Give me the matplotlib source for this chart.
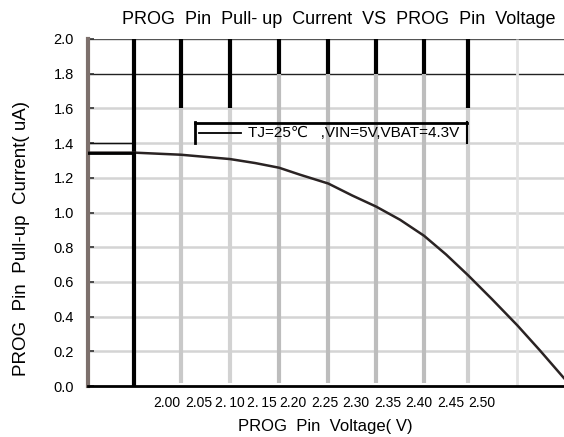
import matplotlib
matplotlib.use("Agg")
import matplotlib.pyplot as plt
from matplotlib.lines import Line2D

plt.rcParams['font.family'] = ['Liberation Sans', 'DejaVu Sans']

# ---- data ----
voltage = [1.875, 1.948, 2.022, 2.100, 2.140, 2.178, 2.211, 2.256, 2.294, 2.332,
           2.370, 2.408, 2.443, 2.478, 2.516, 2.556, 2.592, 2.630]
current = [1.345, 1.345, 1.333, 1.308, 1.285, 1.258, 1.218, 1.167, 1.098, 1.034,
           0.958, 0.866, 0.758, 0.638, 0.500, 0.350, 0.205, 0.046]

xtick_vals = [2.00, 2.05, 2.10, 2.15, 2.20, 2.25, 2.30, 2.35, 2.40, 2.45, 2.50]
xtick_labels = ["2.00", "2.05", "2.\u200910", "2.\u200915", "2.20", "2.25", "2.30",
                "2.35", "2.40", "2.45", "2.50"]
ytick_vals = [0.0, 0.2, 0.4, 0.6, 0.8, 1.0, 1.2, 1.4, 1.6, 1.8, 2.0]

# vertical grid positions (as drawn in the original, odd spacing)
vgrid = [1.948, 2.022, 2.100, 2.178, 2.256, 2.332, 2.408, 2.478, 2.556]
# black top part ends at this current level, then grey below
vgrid_black_to = ["full", 1.6, 1.6, 1.8, 1.8, 1.8, 1.8, 1.6, None]
vgrid_grey = ["#000000", "#c9c9c9", "#d2d2d2", "#bdbdbd", "#bdbdbd", "#bdbdbd",
              "#bdbdbd", "#cfcfcf", "#e2e2e2"]

title = "PROG  Pin  Pull- up  Current  VS  PROG  Pin  Voltage"
xlabel = "PROG  Pin  Voltage( V)"
ylabel = "PROG  Pin  Pull-up  Current( uA)"
legend_text = "TJ=25\u2103   ,VIN=5V,VBAT=4.3V"

W, H = 564, 437
fig = plt.figure(figsize=(W / 100, H / 100), dpi=100)
ax = fig.add_axes([88 / W, (H - 386) / H, (564 - 88) / W, (386 - 39) / H])
ax.set_xlim(1.8746, 2.6302)
ax.set_ylim(0, 2.0)

# horizontal grid
for y in ytick_vals:
    if y == 0.0:
        continue
    if y == 2.0:
        ax.axhline(y, color="#555555", lw=1.0, zorder=1)
    elif y == 1.8:
        ax.axhline(y, color="#222222", lw=1.0, zorder=1)
    else:
        ax.axhline(y, color="#d4d4d4", lw=1.8, zorder=1)
# short black segment at 1.4
ax.plot([1.8746, vgrid[0]], [1.4, 1.4], color="#111111", lw=1.0, zorder=2)

# vertical grid
for xv, bt, gc in zip(vgrid, vgrid_black_to, vgrid_grey):
    if bt == "full":
        ax.plot([xv, xv], [0, 2.0], color="#000000", lw=3.0, zorder=3,
                solid_capstyle="butt")
    elif bt is None:
        ax.plot([xv, xv], [0, 2.0], color=gc, lw=2.0, zorder=1,
                solid_capstyle="butt")
    else:
        ax.plot([xv, xv], [0.02, bt], color=gc, lw=3.0, zorder=1,
                solid_capstyle="butt")
        ax.plot([xv, xv], [bt, 2.0], color="#000000", lw=3.0, zorder=3,
                solid_capstyle="butt")

# curve
ax.plot(voltage, current, color="#2a2323", lw=1.8, zorder=4)
ax.plot(voltage[:2], current[:2], color="#000000", lw=2.0, zorder=4)

# spines
for s in ("top", "right"):
    ax.spines[s].set_visible(False)
ax.spines["left"].set_color("#7d706c")
ax.spines["left"].set_linewidth(3.0)
ax.spines["bottom"].set_color("#000000")
ax.spines["bottom"].set_linewidth(2.0)

ax.set_yticks(ytick_vals)
ax.set_yticklabels([f"{v:.1f}" for v in ytick_vals], fontsize=10.5)
ax.tick_params(axis="y", direction="in", length=4, width=1.2, color="#333333", pad=10)
ax.set_xticks(xtick_vals)
ax.set_xticklabels(xtick_labels, fontsize=10)
ax.tick_params(axis="x", length=0, pad=7)

fig.text(339 / W, 1 - 19 / H, title, ha="center", va="center", fontsize=13)
fig.text(325 / W, 1 - 426 / H, xlabel, ha="center", va="center", fontsize=12)
fig.text(22 / W, 1 - 238 / H, ylabel, ha="center", va="center", fontsize=13.5,
         rotation=90)

# legend box drawn by hand (top + sides, as in original)
def fl(xs, ys, **kw):
    fig.add_artist(Line2D([x / W for x in xs], [1 - y / H for y in ys],
                          transform=fig.transFigure, **kw))

fl([195, 467], [123, 123], color="#000000", lw=2.0, zorder=6)
fl([195, 195], [122, 143], color="#000000", lw=2.0, zorder=6)
fl([467, 467], [122, 143], color="#000000", lw=1.5, zorder=6)
fl([199, 241], [133, 133], color="#000000", lw=1.3, zorder=6)
fig.text(248 / W, 1 - 133 / H, legend_text, ha="left", va="center", fontsize=11,
         zorder=6)

fig.savefig("out.png", dpi=100)
